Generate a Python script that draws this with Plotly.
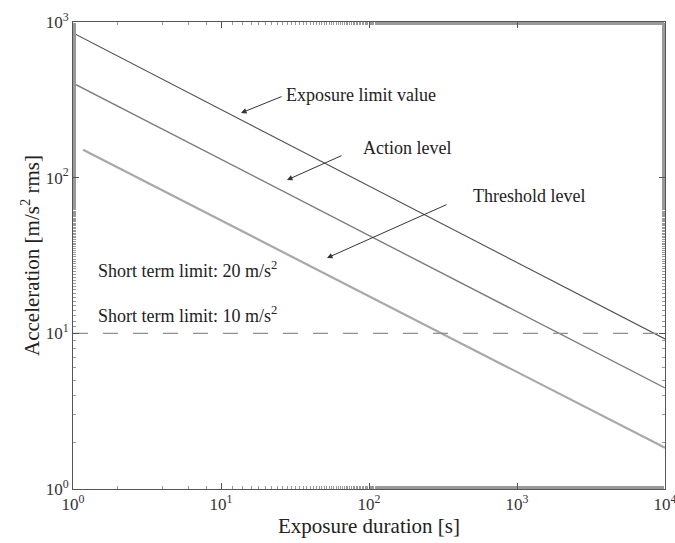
import plotly.graph_objects as go

# Exposure duration endpoints [s] and acceleration limits [m/s^2 rms]
t_ends = [1, 10000]
exposure_limit = [850, 9.2]
action_level = [405, 4.46]
threshold_t = [1.17, 10000]
threshold_level = [151, 1.84]

short_term_t = [1, 10000]
short_term_limit = [10, 10]

tick_vals = [1, 10, 100, 1000, 10000]
tick_text = ["10<sup>0</sup>", "10<sup>1</sup>", "10<sup>2</sup>", "10<sup>3</sup>", "10<sup>4</sup>"]
y_tick_vals = [1, 10, 100, 1000]
y_tick_text = ["10<sup>0</sup>", "10<sup>1</sup>", "10<sup>2</sup>", "10<sup>3</sup>"]

FONT = "Liberation Serif, Times New Roman, serif"

fig = go.Figure()
fig.add_trace(go.Scatter(x=t_ends, y=exposure_limit, mode="lines",
                         line=dict(color="#505050", width=1.1), showlegend=False))
fig.add_trace(go.Scatter(x=t_ends, y=action_level, mode="lines",
                         line=dict(color="#7c7c7c", width=1.4), showlegend=False))
fig.add_trace(go.Scatter(x=threshold_t, y=threshold_level, mode="lines",
                         line=dict(color="#a8a8a8", width=2.2), showlegend=False))
fig.add_trace(go.Scatter(x=short_term_t, y=short_term_limit, mode="lines",
                         line=dict(color="#909090", width=1.1, dash="longdash"), showlegend=False))

# pixel-to-log helpers for placing labels in the plot frame
def lx(px):
    return (px - 73) / 148.0

def ly(py):
    return 3 - (py - 22) / 155.7

label_font = dict(family=FONT, size=18, color="#222222")

arrows = [
    ("Exposure limit value", (284, 95), (283, 96), (241, 113)),
    ("Action level", (361, 148), (343, 155), (287, 180)),
    ("Threshold level", (471, 196), (448, 204), (327, 258)),
]
for text, (tx, ty), (ax_, ay_), (hx, hy) in arrows:
    fig.add_annotation(x=lx(tx), y=ly(ty), xref="x", yref="y", text=text,
                       showarrow=False, xanchor="left", yanchor="middle", font=label_font)
    fig.add_annotation(x=lx(hx), y=ly(hy), ax=lx(ax_), ay=ly(ay_), xref="x", yref="y",
                       axref="x", ayref="y", text="", showarrow=True, arrowhead=2,
                       arrowsize=1.1, arrowwidth=1, arrowcolor="#333333")

fig.add_annotation(x=lx(96), y=ly(270), xref="x", yref="y",
                   text="Short term limit: 20 m/s<sup>2</sup>", showarrow=False,
                   xanchor="left", yanchor="middle", font=label_font)
fig.add_annotation(x=lx(96), y=ly(315), xref="x", yref="y",
                   text="Short term limit: 10 m/s<sup>2</sup>", showarrow=False,
                   xanchor="left", yanchor="middle", font=label_font)

axis_common = dict(type="log", showline=True, linecolor="#555555", linewidth=1,
                   mirror="ticks", ticks="inside", ticklen=6, tickcolor="#555555",
                   showgrid=False, zeroline=False, ticklabeloverflow="allow",
                   automargin=False,
                   minor=dict(ticks="inside", ticklen=3, tickcolor="#999999", showgrid=False),
                   tickfont=dict(family=FONT, size=17, color="#333333"))

fig.update_xaxes(range=[0, 4], tickvals=tick_vals, ticktext=tick_text,
                 title=dict(text="Exposure duration [s]", font=dict(family=FONT, size=21, color="#222222"),
                            standoff=2),
                 **axis_common)
fig.update_yaxes(range=[0, 3], tickvals=y_tick_vals, ticktext=y_tick_text,
                 title=dict(text="Acceleration [m/s<sup>2</sup> rms]", font=dict(family=FONT, size=21, color="#222222"),
                            standoff=0),
                 **axis_common)

fig.update_layout(width=675, height=543, margin=dict(l=73, r=10, t=22, b=54),
                  plot_bgcolor="white", paper_bgcolor="white", showlegend=False)

fig.write_html("out.html")
